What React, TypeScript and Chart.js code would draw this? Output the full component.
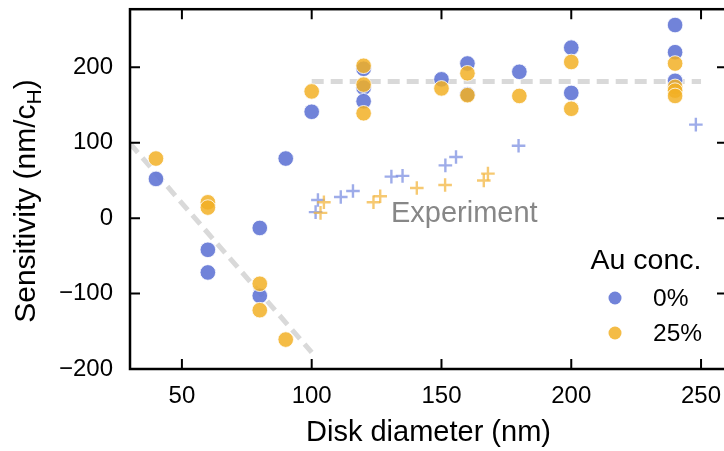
import React, { useEffect, useRef } from 'react';
import { Chart, registerables } from 'chart.js';
Chart.register(...registerables);

const W = 740;
const H = 451;
const FONT = '"Liberation Sans", Arial, Helvetica, sans-serif';

// axis ticks
const xTicks = [50, 100, 150, 200, 250];
const yTicks = [-200, -100, 0, 100, 200];

// Au conc. 0% (blue circles)
const au0X = [40, 60, 60, 80, 80, 90, 100, 120, 120, 120, 150, 160, 160, 180, 200, 200, 240, 240, 240];
const au0Y = [52, -42, -72, -13, -103, 79, 141, 198, 173, 155, 184, 205, 164, 194, 226, 166, 256, 220, 182];

// Au conc. 25% (orange circles)
const au25X = [40, 60, 60, 80, 80, 90, 100, 120, 120, 120, 150, 160, 160, 180, 200, 200, 240, 240, 240, 240];
const au25Y = [79, 21, 14, -87, -122, -161, 168, 202, 177, 139, 172, 192, 163, 162, 207, 145, 205, 174, 169, 162];

// Experiment, 0% (blue crosses)
const exp0X = [101.5, 102.4, 111.2, 115.9, 130.7, 135, 151.5, 155.6, 179.7, 248];
const exp0Y = [8, 24, 28, 36, 55, 56, 70, 81, 96, 124];

// Experiment, 25% (orange crosses)
const exp25X = [103.4, 104.7, 123.8, 126.4, 140.5, 151.4, 166.3, 167.9];
const exp25Y = [7, 21, 21, 29, 40, 44, 50, 59];

// dashed guide lines
const guide1X = [30, 100];
const guide1Y = [99, -178];
const guide2X = [100, 250];
const guide2Y = [181, 181];

const BLUE = 'rgba(98,118,213,0.9)';
const ORANGE = 'rgba(242,176,38,0.85)';
const BLUE_X = 'rgba(120,140,225,0.72)';
const ORANGE_X = 'rgba(242,180,60,0.72)';

const pts = (xs: number[], ys: number[]) => xs.map((x, i) => ({ x, y: ys[i] }));

export default function App() {
  const ref = useRef<HTMLCanvasElement>(null);

  useEffect(() => {
    document.documentElement.style.overflow = 'hidden';
    document.body.style.overflow = 'hidden';
    document.body.style.margin = '0';
    const canvas = ref.current!;

    const frame = {
      id: 'frame',
      afterDraw(chart: any) {
        const { ctx, chartArea: a, scales } = chart;
        const xs = scales.x;
        const ys = scales.y;
        ctx.save();
        // spines
        ctx.strokeStyle = '#000';
        ctx.lineWidth = 2.5;
        ctx.strokeRect(a.left, a.top, a.right - a.left, a.bottom - a.top);
        // inward ticks
        ctx.lineWidth = 2;
        const TL = 10;
        ctx.beginPath();
        xTicks.forEach((v) => {
          const px = xs.getPixelForValue(v);
          ctx.moveTo(px, a.bottom);
          ctx.lineTo(px, a.bottom - TL);
          ctx.moveTo(px, a.top);
          ctx.lineTo(px, a.top + TL);
        });
        yTicks.forEach((v) => {
          const py = ys.getPixelForValue(v);
          ctx.moveTo(a.left, py);
          ctx.lineTo(a.left + TL, py);
          ctx.moveTo(a.right, py);
          ctx.lineTo(a.right - TL, py);
        });
        ctx.stroke();

        // x title
        ctx.fillStyle = '#000';
        ctx.textAlign = 'center';
        ctx.textBaseline = 'alphabetic';
        ctx.font = `29px ${FONT}`;
        ctx.fillText('Disk diameter (nm)', (a.left + a.right) / 2, 441);

        // y title with subscript
        ctx.save();
        ctx.translate(35, 201);
        ctx.rotate(-Math.PI / 2);
        ctx.textAlign = 'left';
        const main = 'Sensitivity (nm/c';
        const sub = 'H';
        const end = ')';
        ctx.font = `30px ${FONT}`;
        const w1 = ctx.measureText(main).width;
        const w3 = ctx.measureText(end).width;
        ctx.font = `21px ${FONT}`;
        const w2 = ctx.measureText(sub).width;
        const x0 = -(w1 + w2 + w3) / 2;
        ctx.font = `30px ${FONT}`;
        ctx.fillText(main, x0, 0);
        ctx.font = `21px ${FONT}`;
        ctx.fillText(sub, x0 + w1, 6);
        ctx.font = `30px ${FONT}`;
        ctx.fillText(end, x0 + w1 + w2, 0);
        ctx.restore();

        // Experiment label
        ctx.fillStyle = '#878787';
        ctx.textAlign = 'left';
        ctx.font = `29px ${FONT}`;
        ctx.fillText('Experiment', 391, 221.5);

        // legend
        ctx.fillStyle = '#000';
        ctx.textAlign = 'center';
        ctx.font = `28.5px ${FONT}`;
        ctx.fillText('Au conc.', 646, 269);
        ctx.textAlign = 'left';
        ctx.font = `24.5px ${FONT}`;
        ctx.fillText('0%', 653, 305.5);
        ctx.fillText('25%', 653, 341);
        ctx.beginPath();
        ctx.arc(615, 298, 6.5, 0, Math.PI * 2);
        ctx.fillStyle = BLUE;
        ctx.fill();
        ctx.beginPath();
        ctx.arc(615, 333, 6.5, 0, Math.PI * 2);
        ctx.fillStyle = ORANGE;
        ctx.fill();
        ctx.restore();
      },
    };

    const chart = new Chart(canvas, {
      type: 'scatter',
      data: {
        datasets: [
          {
            label: '25%',
            data: pts(au25X, au25Y),
            backgroundColor: ORANGE,
            borderColor: 'rgba(255,255,255,0.8)',
            borderWidth: 1,
            pointRadius: 7.8,
            order: 1,
          },
          {
            label: '0%',
            data: pts(au0X, au0Y),
            backgroundColor: BLUE,
            borderColor: 'rgba(255,255,255,0.8)',
            borderWidth: 1,
            pointRadius: 7.8,
            order: 2,
          },
          {
            label: 'exp 25%',
            data: pts(exp25X, exp25Y),
            pointStyle: 'cross',
            borderColor: ORANGE_X,
            backgroundColor: ORANGE_X,
            borderWidth: 2.4,
            pointRadius: 6.8,
            order: 3,
          },
          {
            label: 'exp 0%',
            data: pts(exp0X, exp0Y),
            pointStyle: 'cross',
            borderColor: BLUE_X,
            backgroundColor: BLUE_X,
            borderWidth: 2.4,
            pointRadius: 6.8,
            order: 4,
          },
          {
            label: 'guide1',
            data: pts(guide1X, guide1Y),
            showLine: true,
            borderColor: '#d9d9d9',
            borderWidth: 5,
            borderDash: [12, 7],
            pointRadius: 0,
            order: 5,
          },
          {
            label: 'guide2',
            data: pts(guide2X, guide2Y),
            showLine: true,
            borderColor: '#d9d9d9',
            borderWidth: 5,
            borderDash: [12, 7],
            pointRadius: 0,
            order: 6,
          },
        ],
      },
      options: {
        responsive: false,
        animation: false,
        devicePixelRatio: 1,
        layout: { padding: { top: 8, right: 13, left: 0, bottom: 0 } },
        plugins: { legend: { display: false }, tooltip: { enabled: false } },
        scales: {
          x: {
            type: 'linear',
            min: 30,
            max: 260,
            grid: { display: false, drawTicks: false },
            border: { display: false },
            afterBuildTicks: (s: any) => {
              s.ticks = xTicks.map((v) => ({ value: v }));
            },
            afterFit: (s: any) => {
              s.height = 82;
              s.paddingLeft = 0;
              s.paddingRight = 0;
              s.paddingTop = 0;
              s.paddingBottom = 0;
            },
            ticks: {
              font: { family: FONT, size: 24 },
              color: '#000',
              padding: 13,
              maxRotation: 0,
              autoSkip: false,
            },
          },
          y: {
            type: 'linear',
            min: -200,
            max: 277,
            grid: { display: false, drawTicks: false },
            border: { display: false },
            afterBuildTicks: (s: any) => {
              s.ticks = yTicks.map((v) => ({ value: v }));
            },
            afterFit: (s: any) => {
              s.width = 130;
              s.paddingLeft = 0;
              s.paddingRight = 0;
              s.paddingTop = 0;
              s.paddingBottom = 0;
            },
            ticks: {
              font: { family: FONT, size: 24 },
              color: '#000',
              padding: 17,
              autoSkip: false,
              callback: (v: any) => (Number(v) < 0 ? '\u2212' + Math.abs(Number(v)) : String(v)),
            },
          },
        },
      },
      plugins: [frame],
    });
    return () => chart.destroy();
  }, []);

  return (
    <div style={{ position: 'fixed', left: 0, top: 0, width: W, height: H }}>
      <canvas ref={ref} width={W} height={H} style={{ width: W, height: H, display: 'block' }} />
    </div>
  );
}
